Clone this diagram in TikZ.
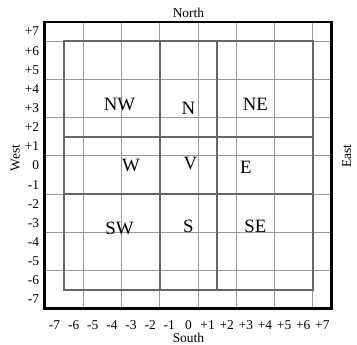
\documentclass[tikz,border=0pt]{standalone}
\usepackage{fontspec}
\setmainfont{Liberation Serif}
\usetikzlibrary{positioning}

\begin{document}
\begin{tikzpicture}[
        x=0.5cm, y=0.5cm,
        gridline/.style={black!40, line width=0.7pt},
        zoneline/.style={black!60, line width=1.5pt},
        frame/.style={black, line width=2.2pt},
        zone/.style={font=\fontsize{14}{16}\selectfont, inner sep=0pt},
        tick/.style={font=\fontsize{10}{12}\selectfont, inner sep=1pt},
        compass/.style={font=\fontsize{10}{12}\selectfont, inner sep=0pt}
    ]

    \useasboundingbox (-9.85,-9.38) rectangle (8.81,8.65);

    % fine grid and zones
    \draw[gridline, shift={(0.5,0.5)}] (-8,-8) grid (7,7);
    \draw[zoneline] (-6.5,-6.5) rectangle (6.5,6.5);
    \draw[zoneline] (-1.5,-6.5) -- (-1.5,6.5);
    \draw[zoneline] (1.5,-6.5) -- (1.5,6.5);
    \draw[zoneline] (-6.5,-1.5) -- (6.5,-1.5);
    \draw[zoneline] (-6.5,1.5) -- (6.5,1.5);
    \draw[frame] (-7.5,-7.5) rectangle (7.5,7.5);

    \node[zone] (NW) at (-3.6,3.2) {NW};
    \node[zone] (N) at (0,3) {N};
    \node[zone] (NE) at (3.5,3.2) {NE};
    \node[zone] (W) at (-3,0) {W};
    \node[zone] (V) at (0.1,0.1) {V};
    \node[zone] (E) at (3,-0.1) {E};
    \node[zone] (SW) at (-3.6,-3.3) {SW};
    \node[zone] (S) at (0,-3.2) {S};
    \node[zone] (SE) at (3.5,-3.2) {SE};

    % axis numbers
    \foreach \i in {-7,...,7} {
        \node[tick, anchor=east] (row\i) at (-7.72,\i) {\ifnum\i>0 +\fi\i};
        \node[tick] (col\i) at (\i,-8.35) {\ifnum\i>0 +\fi\i};
    }

    \node[compass] (north) at (0,7.95) {North};
    \node[compass] (south) at (0,-9.0) {South};
    \node[compass, rotate=90] (west) at (-9.05,0.4) {West};
    \node[compass, rotate=90] (east) at (8.28,0.5) {East};
\end{tikzpicture}
\end{document}
